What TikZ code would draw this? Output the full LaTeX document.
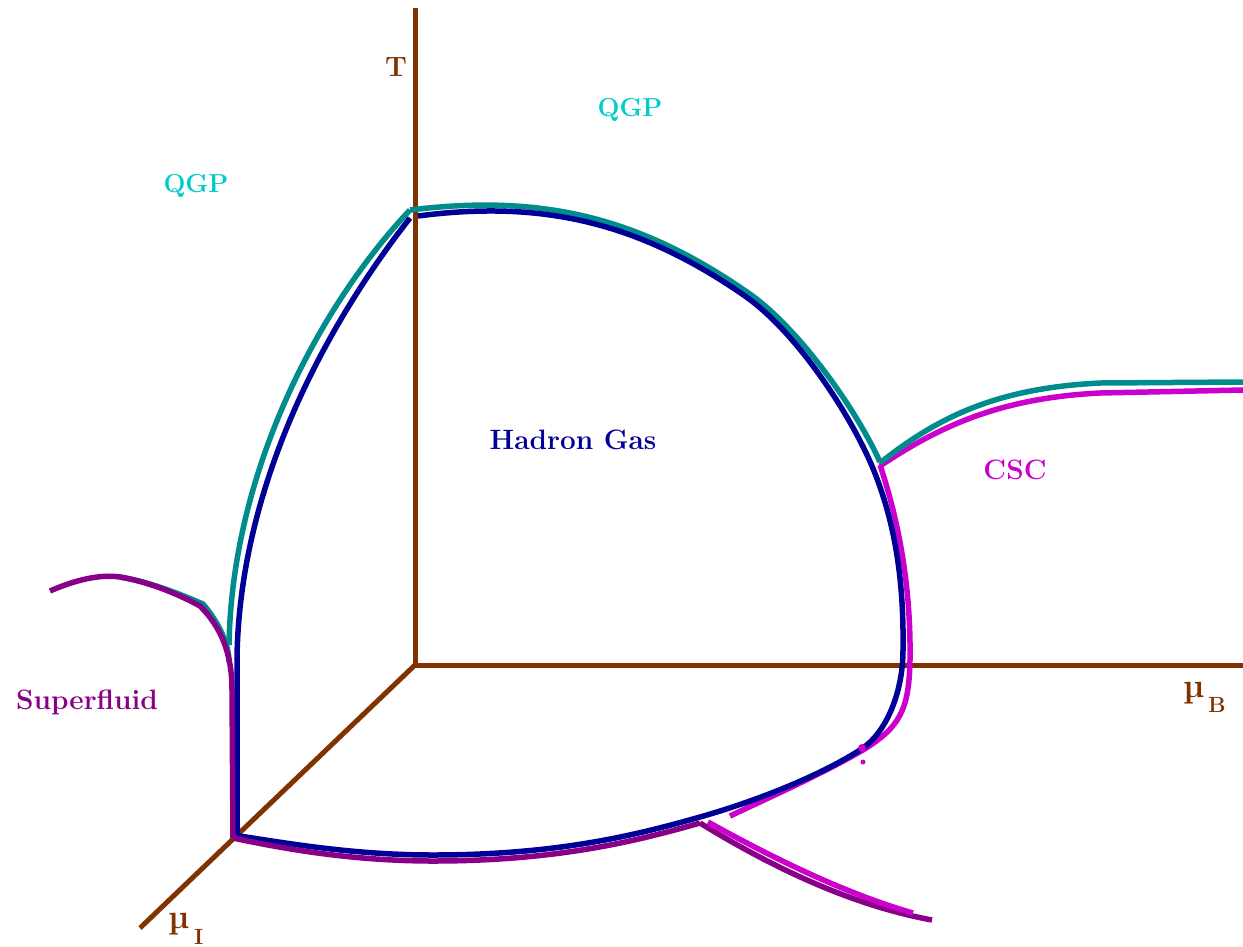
\documentclass[tikz,border=0pt]{standalone}
\usepackage{tikz}
\usetikzlibrary{positioning}
\definecolor{axisbrown}{RGB}{128,51,0}
\definecolor{qgpteal}{RGB}{0,140,140}
\definecolor{qgpcyan}{RGB}{0,204,204}
\definecolor{hadronblue}{RGB}{0,0,150}
\definecolor{cscmag}{RGB}{204,0,204}
\definecolor{sfpurple}{RGB}{136,0,136}
\tikzset{
  axisline/.style={axisbrown, line width=5pt},
  phaseline/.style={line width=5.5pt, line join=round},
  lbl/.style={font=\fontsize{28}{32}\selectfont\bfseries, inner sep=0pt},
  axlbl/.style={axisbrown, font=\fontsize{22}{26}\selectfont\bfseries, inner sep=0pt, anchor=base west},
  mulbl/.style={axlbl, font=\fontsize{34}{38}\selectfont\bfseries},
}
\begin{document}
\begin{tikzpicture}[x=1pt, y=-1pt]
\useasboundingbox (0,0) rectangle (1243,946);
% axes
\coordinate (O) at (415,665);
\draw[axisline] (O) -- (415,8);
\draw[axisline] (O) -- (1243,665);
\draw[axisline] (O) -- (140,928);
\node[lbl, axisbrown] (tlab) at (396,67) {T};
\node[mulbl] (mub) at (1183,697) {\textmu};
\node[axlbl] (blab) at (1208,712) {B};
\node[mulbl] (mui) at (168,928) {\textmu};
\node[axlbl] (ilab) at (194,944) {I};
% QGP boundary
\draw[phaseline, qgpteal] (120,577) .. controls (150,582) and (180,594) .. (203,604) .. controls (220,624) and (229,645) .. (229,662);
\draw[phaseline, qgpteal] (229,645) .. controls (232,470) and (320,305) .. (410,210);
\draw[phaseline, qgpteal] (410,210) .. controls (540,194) and (637,216) .. (747,292) .. controls (797,326) and (855,407) .. (880,462);
% CSC boundary
\draw[phaseline, cscmag] (880,466) .. controls (940,426) and (1000,398) .. (1100,393) -- (1243,390);
\draw[phaseline, qgpteal] (880,463) .. controls (940,415) and (1000,388) .. (1100,383) -- (1243,382);
\draw[phaseline, cscmag] (880,465) .. controls (900,525) and (911,590) .. (910,660) .. controls (909,710) and (900,727) .. (863,750) .. controls (820,775) and (770,797) .. (730,816);
% hadron gas
\draw[phaseline, hadronblue] (410,218) .. controls (330,320) and (240,480) .. (237,657) -- (237,838);
\draw[phaseline, hadronblue] (418,216) .. controls (540,200) and (637,221) .. (745,296) .. controls (795,331) and (848,410) .. (872,466) .. controls (895,521) and (904,580) .. (903,650) .. controls (903,690) and (888,730) .. (863,748) .. controls (830,770) and (770,797) .. (700,817) .. controls (640,834) and (560,855) .. (433,855) .. controls (350,855) and (280,842) .. (233,835);
% superfluid boundary
\draw[phaseline, sfpurple] (233,838) .. controls (280,848) and (350,861) .. (433,861) .. controls (560,861) and (640,840) .. (700,823);
\draw[phaseline, sfpurple] (50,591) .. controls (75,580) and (100,574) .. (120,577) .. controls (150,582) and (180,595) .. (200,606) .. controls (222,628) and (232,655) .. (232,690) -- (233,838);
\draw[phaseline, sfpurple] (700,823) .. controls (770,866) and (850,905) .. (932,920);
\draw[phaseline, cscmag] (708,822) .. controls (780,862) and (850,895) .. (913,913);
\fill[cscmag] (863,762) circle (2.5pt);
\fill[cscmag] (862,748) circle (4pt);
% phase labels
\node[lbl, qgpcyan, font=\fontsize{26}{30}\selectfont\bfseries] (qgptop) at (630,110) {QGP};
\node[lbl, qgpcyan, font=\fontsize{26}{30}\selectfont\bfseries] (qgpleft) at (196,186) {QGP};
\node[lbl, hadronblue] (hadron) at (573,440) {Hadron Gas};
\node[lbl, cscmag] (csc) at (1015,470) {CSC};
\node[lbl, sfpurple] (sf) at (87,702) {Superfluid};
\end{tikzpicture}
\end{document}
